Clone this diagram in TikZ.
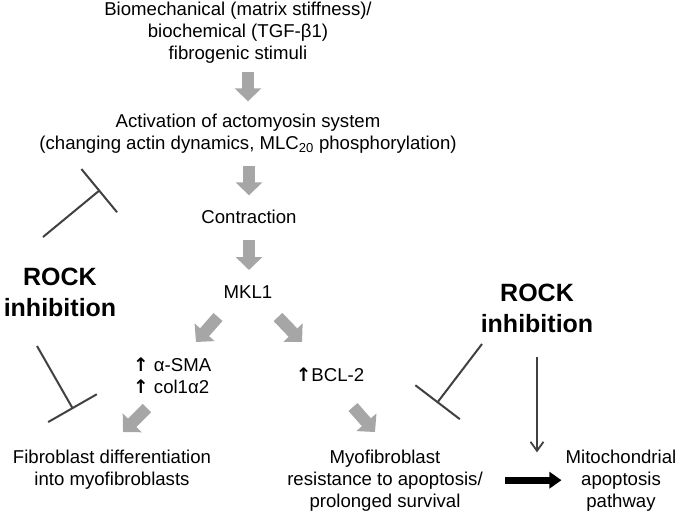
\documentclass[tikz,border=0pt]{standalone}
\usepackage{fontspec}
\setmainfont{Liberation Sans}
\newfontfamily\arrowfont{DejaVu Sans}
\newcommand{\upar}{{\arrowfont\bfseries ↑}}
\usetikzlibrary{arrows.meta}
\definecolor{arrgray}{HTML}{A6A6A6}
\definecolor{bargray}{HTML}{404040}
\tikzset{
  txt/.style={anchor=base, align=center, inner sep=0pt,
    font=\fontsize{18.6}{22}\selectfont},
  rock/.style={anchor=base, align=center, inner sep=0pt,
    font=\fontsize{25}{31}\selectfont\bfseries},
  graywide/.style={draw=arrgray, line width=12pt, -{Triangle[width=26pt,length=13pt]}},
  blockarr/.style={draw=black, line width=7pt, -{Triangle[width=16pt,length=12pt]}},
  thinarr/.style={draw=bargray, line width=1.8pt, -{Straight Barb[length=9pt,width=13pt]}},
  inhib/.style={draw=bargray, line width=2pt, -{Bar[width=56pt]}}
}
\begin{document}
\begin{tikzpicture}[x=1pt,y=-1pt]
      \useasboundingbox (0,0) rectangle (677,514);
      \draw
        (238,59) node[txt] (stim) {Biomechanical (matrix stiffness)/\\biochemical (TGF-β1)\\fibrogenic stimuli}
        (248,149) node[txt] (act) {Activation of actomyosin system\\(changing actin dynamics, MLC\textsubscript{20} phosphorylation)}
        (249,223) node[txt] (cont) {Contraction}
        (248,298) node[txt] (mkl) {MKL1}
        (133,393) node[txt,anchor=base west,align=left] (sma) {\upar{} α-SMA\\\upar{} col1α2}
        (330,381) node[txt] (bcl) {\upar BCL-2}
        (112,485) node[txt] (fib) {Fibroblast differentiation\\into myofibroblasts}
        (385,507) node[txt] (myo) {Myofibroblast\\resistance to apoptosis/\\prolonged survival}
        (621,507) node[txt] (mito) {Mitochondrial\\apoptosis\\pathway}
        (60,316) node[rock] (rockL) {ROCK\\inhibition}
        (537,332) node[rock] (rockR) {ROCK\\inhibition};
      \path
        (218,317) coordinate (ml1) (196,342) coordinate (ml2)
        (278,317) coordinate (mr1) (302,342) coordinate (mr2)
        (147,408) coordinate (sl1) (123,432) coordinate (sl2)
        (353,407) coordinate (bl1) (375,432) coordinate (bl2)
        (43,237) coordinate (il1) (100,190) coordinate (il2)
        (37,346) coordinate (ik1) (73,409) coordinate (ik2)
        (482,344) coordinate (ir1) (437,403) coordinate (ir2);
      \begin{scope}[graywide]
        \draw ([yshift=-9pt]stim.south -| act.north) to ([yshift=12pt]act.north);
        \draw ([yshift=-13pt]act.south -| cont.north) to ([yshift=14pt]cont.north);
        \draw ([yshift=-17pt]cont.south) to ([yshift=15pt]mkl.north -| cont.south);
        \draw (ml1) to (ml2);
        \draw (mr1) to (mr2);
        \draw (sl1) to (sl2);
        \draw (bl1) to (bl2);
      \end{scope}
      \begin{scope}[inhib]
        \draw (il1) to (il2);
        \draw (ik1) to (ik2);
        \draw (ir1) to (ir2);
      \end{scope}
      \draw[thinarr] ([yshift=-25pt]rockR.south) to ([yshift=-3pt]rockR.south |- mito.north);
      \draw[blockarr, shorten <=22pt, shorten >=4pt] (myo.east) to (mito.west);
    \end{tikzpicture}
\end{document}
